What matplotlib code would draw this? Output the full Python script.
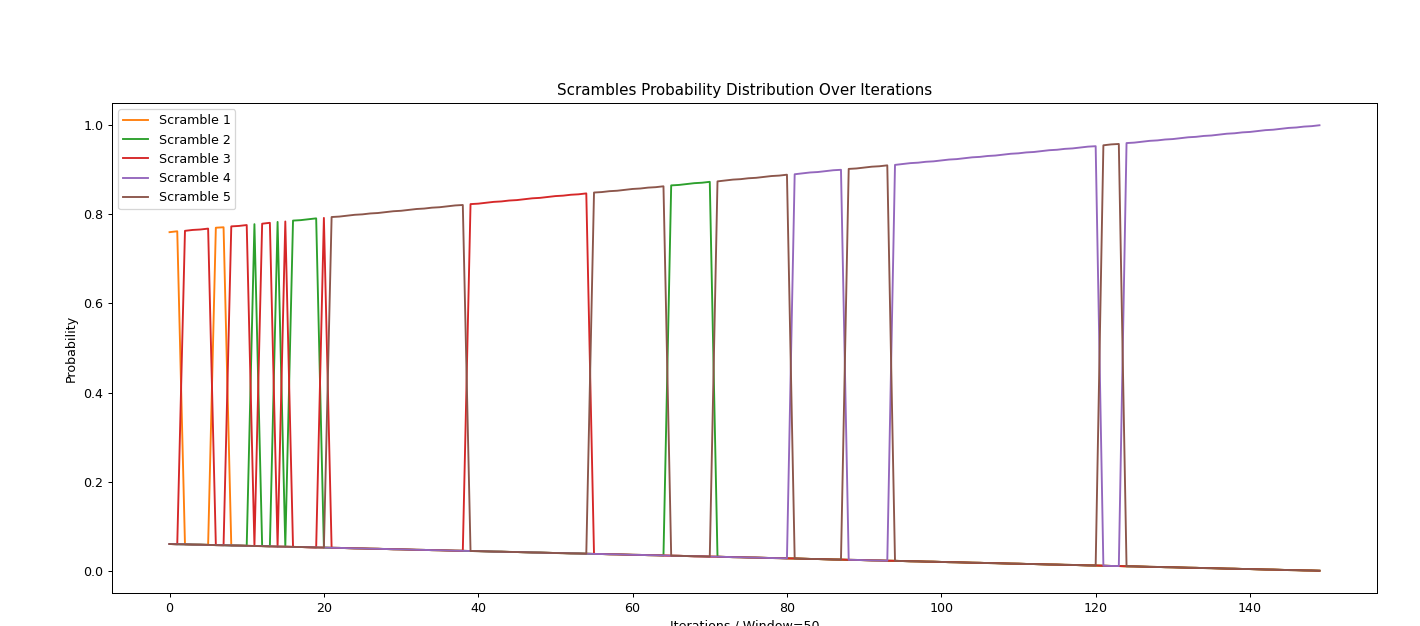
import numpy as np
import matplotlib.pyplot as plt

# probability of the leading scramble at each iteration
top_prob = [
    0.760, 0.762, 0.763, 0.765, 0.766, 0.768, 0.770, 0.771, 0.773, 0.774,
    0.776, 0.778, 0.779, 0.781, 0.783, 0.784, 0.786, 0.787, 0.789, 0.791,
    0.792, 0.794, 0.795, 0.797, 0.799, 0.800, 0.802, 0.803, 0.805, 0.807,
    0.808, 0.810, 0.812, 0.813, 0.815, 0.816, 0.818, 0.820, 0.821, 0.823,
    0.824, 0.826, 0.828, 0.829, 0.831, 0.832, 0.834, 0.836, 0.837, 0.839,
    0.841, 0.842, 0.844, 0.845, 0.847, 0.849, 0.850, 0.852, 0.853, 0.855,
    0.857, 0.858, 0.860, 0.861, 0.863, 0.865, 0.866, 0.868, 0.870, 0.871,
    0.873, 0.874, 0.876, 0.878, 0.879, 0.881, 0.882, 0.884, 0.886, 0.887,
    0.889, 0.890, 0.892, 0.894, 0.895, 0.897, 0.899, 0.900, 0.902, 0.903,
    0.905, 0.907, 0.908, 0.910, 0.911, 0.913, 0.915, 0.916, 0.918, 0.919,
    0.921, 0.923, 0.924, 0.926, 0.928, 0.929, 0.931, 0.932, 0.934, 0.936,
    0.937, 0.939, 0.940, 0.942, 0.944, 0.945, 0.947, 0.948, 0.950, 0.952,
    0.953, 0.955, 0.957, 0.958, 0.960, 0.961, 0.963, 0.965, 0.966, 0.968,
    0.969, 0.971, 0.973, 0.974, 0.976, 0.977, 0.979, 0.981, 0.982, 0.984,
    0.985, 0.987, 0.989, 0.990, 0.992, 0.994, 0.995, 0.997, 0.998, 1.000,
]

# which scramble leads, as (scramble, number of iterations) runs
leader_runs = [
    (1, 2), (3, 4), (1, 2), (3, 3), (2, 1), (3, 2), (2, 1), (3, 1), (2, 4),
    (3, 1), (5, 18), (3, 16), (5, 10), (2, 6), (5, 10), (4, 7), (5, 6),
    (4, 27), (5, 3), (4, 26),
]

labels = ["Scramble 1", "Scramble 2", "Scramble 3", "Scramble 4", "Scramble 5"]
colors = ["tab:orange", "tab:green", "tab:red", "tab:purple", "tab:brown"]

top_prob = np.array(top_prob)
leader = np.concatenate([[s] * n for s, n in leader_runs])
iterations = np.arange(len(top_prob))
# the remaining mass is shared equally by the other four scrambles
rest = (1 - top_prob) / 4

# the reference looks like a larger figure shrunk to ~90%
dpi = 90.5
fig = plt.figure(figsize=(1420 / dpi, 626 / dpi), dpi=dpi)
ax = fig.add_axes([0.0789, 0.0527, 0.8908, 0.7828])

for k, (label, color) in enumerate(zip(labels, colors), start=1):
    probs = np.where(leader == k, top_prob, rest)
    ax.plot(iterations, probs, label=label, color=color)

ax.set_title("Scrambles Probability Distribution Over Iterations")
ax.set_xlabel("Iterations / Window=50")
ax.set_ylabel("Probability")
ax.legend(loc="upper left")

fig.savefig("out.png", dpi=dpi)
